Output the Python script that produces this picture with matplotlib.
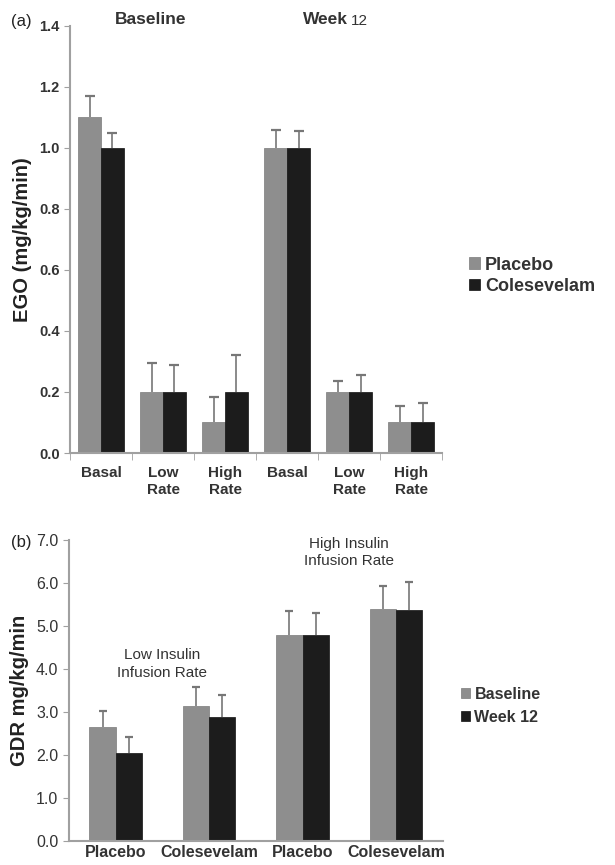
import matplotlib
matplotlib.use('Agg')
import matplotlib.pyplot as plt
import numpy as np

plt.rcParams['font.family'] = ['Liberation Sans', 'DejaVu Sans']

# Panel (a): EGO
ego_labels = ['Basal', 'Low\nRate', 'High\nRate', 'Basal', 'Low\nRate', 'High\nRate']
ego_placebo = [1.10, 0.20, 0.10, 1.00, 0.20, 0.10]
ego_placebo_err = [0.07, 0.095, 0.085, 0.06, 0.035, 0.055]
ego_coles = [1.00, 0.20, 0.20, 1.00, 0.20, 0.10]
ego_coles_err = [0.05, 0.09, 0.12, 0.055, 0.055, 0.065]
ego_yticks = [0.0, 0.2, 0.4, 0.6, 0.8, 1.0, 1.2, 1.4]

# Panel (b): GDR
gdr_labels = ['Placebo', 'Colesevelam', 'Placebo', 'Colesevelam']
gdr_baseline = [2.65, 3.15, 4.80, 5.40]
gdr_baseline_err = [0.38, 0.43, 0.55, 0.53]
gdr_week12 = [2.05, 2.88, 4.78, 5.38]
gdr_week12_err = [0.37, 0.52, 0.52, 0.65]
gdr_yticks = [0.0, 1.0, 2.0, 3.0, 4.0, 5.0, 6.0, 7.0]

grey = '#8e8e8e'
black = '#1c1c1c'
axis_grey = '#a0a0a0'
err_grey = '#777777'
text_col = '#333333'


def upper_errors(ax, xs, vals, errs, cap):
    # only the upper half of each error bar, with a cap on top
    vals = np.asarray(vals)
    tops = vals + np.asarray(errs)
    ax.vlines(xs, vals, tops, color=err_grey, linewidth=1.2, zorder=1)
    ax.plot(xs, tops, linestyle='none', marker='_', markersize=cap,
            markeredgewidth=1.6, color=err_grey, zorder=1)


fig = plt.figure(figsize=(6.15, 8.65), dpi=100)

# ---------- panel (a) ----------
ax1 = fig.add_axes([0.1138, 0.4763, 0.605, 0.4937])
x = np.arange(len(ego_labels))
w = 0.37
upper_errors(ax1, x - w / 2, ego_placebo, ego_placebo_err, 7)
upper_errors(ax1, x + w / 2, ego_coles, ego_coles_err, 7)
ax1.bar(x - w / 2, ego_placebo, w, color=grey, edgecolor='#7a7a7a', linewidth=0.5,
        label='Placebo', zorder=2)
ax1.bar(x + w / 2, ego_coles, w, color=black, edgecolor='#111111', linewidth=0.5,
        label='Colesevelam', zorder=2)
ax1.set_xlim(-0.5, len(x) - 0.5)
ax1.set_ylim(0, 1.4)
ax1.set_yticks(ego_yticks)
ax1.set_yticklabels([f'{v:.1f}' for v in ego_yticks], fontweight='bold', fontsize=10.5, color=text_col)
ax1.set_xticks(x)
ax1.set_xticklabels(ego_labels, fontsize=11, color=text_col, fontweight='bold', linespacing=1.3)
ax1.set_xticks(np.arange(-0.5, len(x)), minor=True)
ax1.tick_params(axis='x', which='major', length=0, pad=9)
ax1.tick_params(axis='x', which='minor', length=5, color=axis_grey, direction='out')
ax1.tick_params(axis='y', length=4, color=axis_grey, direction='out')
for s in ['top', 'right']:
    ax1.spines[s].set_visible(False)
for s in ['left', 'bottom']:
    ax1.spines[s].set_color(axis_grey)
    ax1.spines[s].set_linewidth(1.5)
ax1.set_ylabel('EGO (mg/kg/min)', fontsize=14.5, fontweight='bold', color='#222222', labelpad=5)
ax1.legend(loc='center left', bbox_to_anchor=(1.03, 0.415), frameon=False, handlelength=0.6,
           handleheight=0.6, handletextpad=0.25, labelspacing=0.25,
           prop={'size': 13, 'weight': 'bold'}, labelcolor=text_col)
fig.text(0.018, 0.975, '(a)', fontsize=12, color='#222222', va='center')
fig.text(0.245, 0.977, 'Baseline', fontsize=12.5, fontweight='bold', color='#333333', ha='center', va='center')
fig.text(0.566, 0.977, 'Week', fontsize=12.5, fontweight='bold', color='#333333', ha='right', va='center')
fig.text(0.571, 0.976, '12', fontsize=11, color='#333333', ha='left', va='center')

# ---------- panel (b) ----------
ax2 = fig.add_axes([0.112, 0.0277, 0.608, 0.348])
xb = np.arange(len(gdr_labels))
wb = 0.28
upper_errors(ax2, xb - wb / 2, gdr_baseline, gdr_baseline_err, 6)
upper_errors(ax2, xb + wb / 2, gdr_week12, gdr_week12_err, 6)
ax2.bar(xb - wb / 2, gdr_baseline, wb, color=grey, edgecolor='#7a7a7a', linewidth=0.5,
        label='Baseline', zorder=2)
ax2.bar(xb + wb / 2, gdr_week12, wb, color=black, edgecolor='#111111', linewidth=0.5,
        label='Week 12', zorder=2)
ax2.set_xlim(-0.5, len(xb) - 0.5)
ax2.set_ylim(0, 7.0)
ax2.set_yticks(gdr_yticks)
ax2.set_yticklabels([f'{v:.1f}' for v in gdr_yticks], fontsize=11.5, color=text_col)
ax2.set_xticks(xb)
ax2.set_xticklabels(gdr_labels, fontsize=11.5, fontweight='bold', color=text_col)
ax2.tick_params(axis='x', length=0, pad=3)
ax2.tick_params(axis='y', length=4, color=axis_grey, direction='out')
for s in ['top', 'right']:
    ax2.spines[s].set_visible(False)
for s in ['left', 'bottom']:
    ax2.spines[s].set_color(axis_grey)
    ax2.spines[s].set_linewidth(1.5)
ax2.set_ylabel('GDR mg/kg/min', fontsize=14.5, fontweight='bold', color='#222222', labelpad=5)
ax2.text(0.5, 3.75, 'Low Insulin\nInfusion Rate', ha='center', va='bottom', fontsize=11,
         color='#333333', linespacing=1.3)
ax2.text(2.5, 6.35, 'High Insulin\nInfusion Rate', ha='center', va='bottom', fontsize=11,
         color='#333333', linespacing=1.3)
ax2.legend(loc='center left', bbox_to_anchor=(1.01, 0.45), frameon=False, handlelength=0.6,
           handleheight=0.6, handletextpad=0.25, labelspacing=0.5,
           prop={'size': 11.5, 'weight': 'bold'}, labelcolor=text_col)
fig.text(0.018, 0.373, '(b)', fontsize=12, color='#222222', va='center')

fig.savefig('out.png', dpi=100)
